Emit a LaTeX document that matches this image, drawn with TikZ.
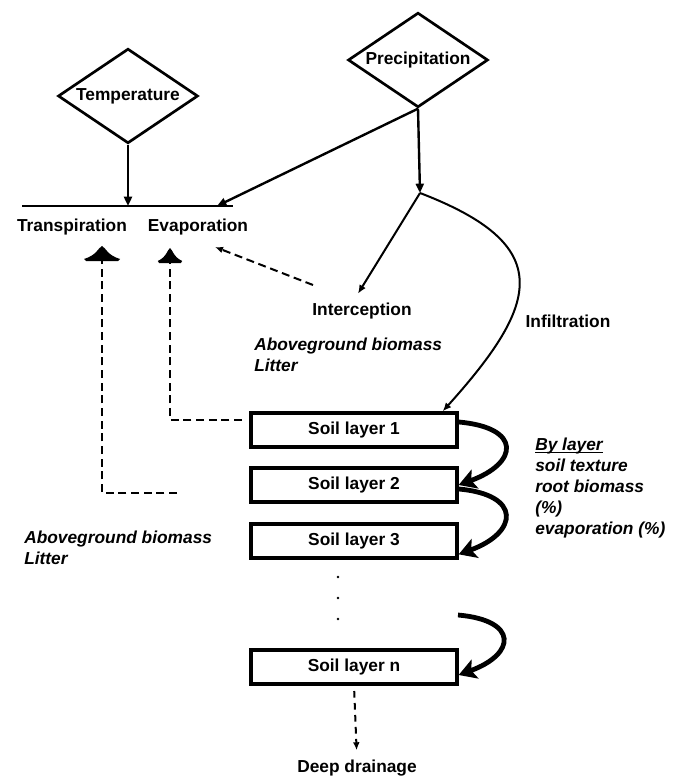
\documentclass[tikz,border=0pt]{standalone}
\usepackage{fontspec}
\setmainfont{Liberation Sans}
\usetikzlibrary{shapes.geometric,arrows.meta}

\tikzset{
  txt/.style={font=\fontsize{13}{15.75}\selectfont\bfseries, inner sep=0pt},
  note/.style={txt, font=\fontsize{13}{15.75}\selectfont\bfseries\itshape, align=left, anchor=west},
  driver/.style={txt, diamond, draw, line width=2pt, aspect=1.5, minimum width=105pt, minimum height=71pt},
  layer/.style={txt, draw, line width=3pt, minimum width=154pt, minimum height=25pt},
  flow/.style={line width=1.8pt, -{Triangle[length=7pt,width=6pt]}},
  thinflow/.style={line width=1.5pt, -{Latex[length=6.5pt,width=5.5pt]}},
  dashflow/.style={line width=1.5pt, dash pattern=on 6pt off 3.5pt},
  percolate/.style={line width=3.6pt, -{Stealth[length=13pt,width=15pt,inset=3pt]}},
  tent/.pic={\fill (0,0) .. controls (4,-2) and (5,-9) .. (18,-13) -- (16,-15)
    -- (-16,-15) -- (-18,-13) .. controls (-5,-9) and (-4,-2) .. (0,0) -- cycle;}
}

\begin{document}
\begin{tikzpicture}[x=0.75pt, y=0.75pt]
  \useasboundingbox (0,0) rectangle (678,-780);

  % drivers
  \node[driver] (temp) at (128,-96) {Temperature};
  \node[driver] (prec) at (418,-60) {Precipitation};

  % fluxes and notes
  \node[txt] (transp) at (72,-227) {Transpiration};
  \node[txt] (evap) at (198,-227) {Evaporation};
  \node[txt] (icpt) at (362,-311) {Interception};
  \node[txt] (infil) at (568,-321) {Infiltration};
  \node[note] (canopy) at (254,-355) {Aboveground biomass\\Litter};
  \node[note] (litter) at (24,-548) {Aboveground biomass\\Litter};
  \node[note] (bylayer) at (535,-494) {\underline{\smash{By layer}}\\soil texture\\root biomass\\(\%)\\evaporation (\%)};

  % soil profile
  \node[layer] (s1) at (354,-430) {Soil layer 1};
  \node[layer] (s2) at (354,-485) {Soil layer 2};
  \node[layer] (s3) at (354,-541) {Soil layer 3};
  \node[layer] (sn) at (354,-667) {Soil layer n};
  \node[txt] (drain) at (357,-768) {Deep drainage};
  \foreach \y in {577,598,619}
    \fill (338,-\y) circle (1.3);

  % free ends
  \coordinate (hl) at (22,-206);
  \coordinate (hr) at (233,-206);
  \coordinate (evin) at (217,-206);
  \coordinate (split) at (420,-193);
  \coordinate (trtip) at (102,-246);
  \coordinate (evtip) at (170,-248);
  \coordinate (trbase) at (102,-259);
  \coordinate (evbase) at (170,-259);
  \coordinate (trfoot) at (177,-493);
  \coordinate (evfoot) at (242,-420);
  \coordinate (icfoot) at (313,-285);
  \coordinate (icend) at (215,-247);
  \coordinate (nfrom) at (458,-615);

  \begin{scope}
    \draw[line width=1.8pt] (hl) -- (hr);
    \draw[flow] (temp.south) -- (temp.south |- hl);
    \draw[flow] (prec.south) -- (evin);
    \draw[flow] (prec.south) -- (split);
    \draw[thinflow] (split) -- ([shift={(-4,9)}]icpt.north);
    \draw[thinflow] (split) to[out=-21, in=48, looseness=1.7] ([xshift=-12pt]s1.north east);
  \end{scope}

  % water going back up
  \draw[dashflow] (evfoot) -| (evbase);
  \draw[dashflow] (trfoot) -| (trbase);
  \pic at (trtip) {tent};
  \pic[xscale=0.68] at (evtip) {tent};
  \draw[dashflow, -{Latex[length=6pt,width=5pt]}] (icfoot) -- (icend);

  % percolation between layers
  \draw[percolate] ([yshift=6pt]s1.east) to[out=-5, in=20, looseness=2.6] (s2.east);
  \draw[percolate] ([yshift=-3pt]s2.east) to[out=-5, in=20, looseness=2.5] ([yshift=-10pt]s3.east);
  \draw[percolate] (nfrom) to[out=-5, in=20, looseness=2.6] ([yshift=-6pt]sn.east);
  \draw[dashflow, dash pattern=on 5pt off 4pt, -{Latex[length=6pt,width=5pt]},
    shorten <=4pt, shorten >=7pt] (sn.south) -- (drain.north);
\end{tikzpicture}
\end{document}
